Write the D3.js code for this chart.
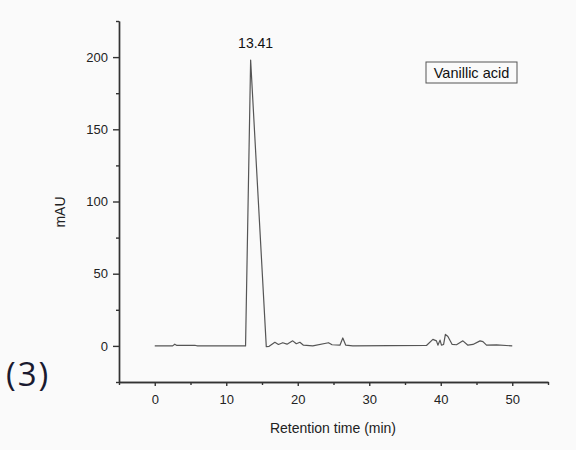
<!DOCTYPE html>
<html>
<head>
<meta charset="utf-8">
<script src="https://cdn.jsdelivr.net/npm/d3@7"></script>
<style>
  body { margin: 0; background: #fafafa; }
  svg { display: block; }
</style>
</head>
<body>
<div id="chart"></div>
<script>
// chromatogram trace
var times = [0, 2.5, 2.8, 3.1, 5.7, 6, 12.7, 13.41, 15.6, 16, 16.8, 17.3, 17.9, 18.5, 19.3, 19.8,
  20.3, 20.8, 22.1, 24.3, 24.8, 25.9, 26.3, 26.7, 27.7, 38, 38.9, 39.4, 39.6, 39.9, 40.1, 40.4,
  40.65, 41.0, 41.6, 42.2, 43.1, 43.8, 44.5, 45.5, 45.9, 46.4, 47.8, 50];
var signal = [0, 0, 1.2, 0.3, 0.3, 0, 0, 198, -0.5, -0.3, 2.5, 1.0, 2.2, 1.2, 3.5, 1.5,
  2.5, 0.5, 0, 2.2, 0.8, 0.5, 5.5, 0.6, 0, 0.3, 4.5, 3.5, 0.5, 4, 0.5, 1.0,
  8, 6.5, 1.0, 0.8, 3.5, 0.5, 1.0, 3.5, 3, 0.5, 0.7, 0];

var xMajor = [0, 10, 20, 30, 40, 50];
var xMinor = [-5, 5, 15, 25, 35, 45, 55];
var yMajor = [0, 50, 100, 150, 200];
var yMinor = [-25, 25, 75, 125, 175, 225];

var peakTime = 13.41;
var peakLabel = "13.41";
var compound = "Vanillic acid";

var width = 576;
var height = 450;

// plot frame (named so they don't clash with window.top)
var plotLeft = 119, plotRight = 548, plotTop = 21, plotBottom = 382;

var svg = d3.select("#chart")
  .append("svg")
  .attr("width", width)
  .attr("height", height);

svg.append("rect")
  .attr("width", width)
  .attr("height", height)
  .attr("fill", "#fafafa");

var xScale = d3.scaleLinear().domain([-5, 55]).range([plotLeft, plotRight]);
var yScale = d3.scaleLinear().domain([-25, 225]).range([plotBottom, plotTop]);

var axisColor = "#333";
var labelFont = "'Liberation Sans', Arial, sans-serif";

function styleAxis(g) {
  g.selectAll("path, line").attr("stroke", axisColor).attr("stroke-width", 1.4);
  g.selectAll("text")
    .attr("fill", "#222")
    .attr("font-family", labelFont)
    .attr("font-size", 13);
}

// minor ticks first, majors on top
svg.append("g")
  .attr("transform", "translate(0," + plotBottom + ")")
  .call(d3.axisBottom(xScale).tickValues(xMinor).tickSize(3).tickSizeOuter(0).tickFormat(""))
  .call(styleAxis);

svg.append("g")
  .attr("transform", "translate(0," + plotBottom + ")")
  .call(d3.axisBottom(xScale).tickValues(xMajor).tickSize(4).tickSizeOuter(0).tickPadding(9))
  .call(styleAxis);

svg.append("g")
  .attr("transform", "translate(" + plotLeft + ",0)")
  .call(d3.axisLeft(yScale).tickValues(yMinor).tickSize(3).tickSizeOuter(0).tickFormat(""))
  .call(styleAxis);

svg.append("g")
  .attr("transform", "translate(" + plotLeft + ",0)")
  .call(d3.axisLeft(yScale).tickValues(yMajor).tickSize(6).tickSizeOuter(0).tickPadding(5))
  .call(styleAxis);

// trace
var line = d3.line()
  .x(function(d, i) { return xScale(times[i]); })
  .y(function(d) { return yScale(d); });

svg.append("path")
  .datum(signal)
  .attr("d", line)
  .attr("fill", "none")
  .attr("stroke", "#555")
  .attr("stroke-width", 1.2)
  .attr("stroke-linejoin", "round");

// peak label
svg.append("text")
  .attr("x", xScale(peakTime) + 5)
  .attr("y", 48)
  .attr("text-anchor", "middle")
  .attr("font-family", labelFont)
  .attr("font-size", 14)
  .attr("fill", "#111")
  .text(peakLabel);

// legend box
svg.append("rect")
  .attr("x", 426)
  .attr("y", 62)
  .attr("width", 91)
  .attr("height", 21)
  .attr("fill", "none")
  .attr("stroke", "#555")
  .attr("stroke-width", 1);

svg.append("text")
  .attr("x", 471.5)
  .attr("y", 78)
  .attr("text-anchor", "middle")
  .attr("font-family", labelFont)
  .attr("font-size", 14.5)
  .attr("fill", "#111")
  .text(compound);

// axis titles
svg.append("text")
  .attr("x", 333)
  .attr("y", 433)
  .attr("text-anchor", "middle")
  .attr("font-family", labelFont)
  .attr("font-size", 14)
  .attr("fill", "#222")
  .text("Retention time (min)");

svg.append("text")
  .attr("transform", "translate(65,212)rotate(-90)")
  .attr("text-anchor", "middle")
  .attr("font-family", labelFont)
  .attr("font-size", 14)
  .attr("fill", "#222")
  .text("mAU");

// panel number
svg.append("text")
  .attr("x", 6)
  .attr("y", 386)
  .attr("font-family", "'Open Sans', 'Noto Sans', sans-serif")
  .attr("font-size", 33)
  .attr("letter-spacing", 2)
  .attr("fill", "#1a1a30")
  .text("(3)");
</script>
</body>
</html>
